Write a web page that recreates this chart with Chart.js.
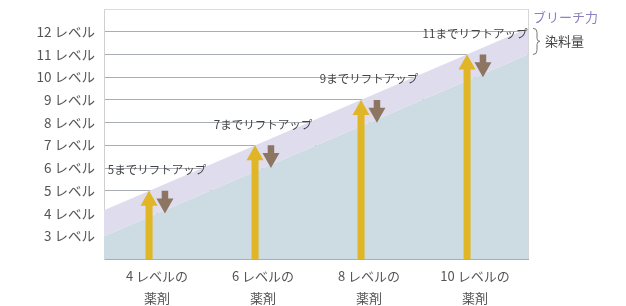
<!DOCTYPE html>
<html lang="ja">
<head>
<meta charset="utf-8">
<script src="https://cdn.jsdelivr.net/npm/chart.js@4.4.1/dist/chart.umd.min.js"></script>
<style>
  html, body { margin: 0; padding: 0; background: #fff; }
</style>
</head>
<body>
<canvas id="chart" width="626" height="306"></canvas>
<script>
// data
const categories = [["4 レベルの", "薬剤"], ["6 レベルの", "薬剤"], ["8 レベルの", "薬剤"], ["10 レベルの", "薬剤"]];
const levelTicks = [3, 4, 5, 6, 7, 8, 9, 10, 11, 12];
const liftLevels = [5, 7, 9, 11];
const dropLevels = [4, 6, 8, 10];
const liftTexts = ["5までリフトアップ", "7までリフトアップ", "9までリフトアップ", "11までリフトアップ"];
const bandEdges = [-0.5, 3.5];
const bleachEdge = [4.15, 12.15];
const dyeEdge = [3.0, 11.0];

const FONT = '"Noto Sans CJK JP", "Noto Sans", sans-serif';
Chart.defaults.font.family = FONT;

function drawArrow(ctx, cx, from, to, shaftW, headW, headL, color) {
  const dir = to < from ? -1 : 1;
  const headBase = to - dir * headL;
  ctx.fillStyle = color;
  ctx.beginPath();
  ctx.moveTo(cx - shaftW / 2, from);
  ctx.lineTo(cx - shaftW / 2, headBase);
  ctx.lineTo(cx - headW / 2, headBase);
  ctx.lineTo(cx, to);
  ctx.lineTo(cx + headW / 2, headBase);
  ctx.lineTo(cx + shaftW / 2, headBase);
  ctx.lineTo(cx + shaftW / 2, from);
  ctx.closePath();
  ctx.fill();
}

const arrowPlugin = {
  id: "arrows",
  afterDraw(chart) {
    const { ctx, chartArea, scales: { x, y } } = chart;
    ctx.save();
    // top frame line
    ctx.strokeStyle = "#dcdcdc";
    ctx.lineWidth = 1;
    ctx.beginPath();
    ctx.moveTo(chartArea.left, Math.round(y.getPixelForValue(y.max)) + 0.5);
    ctx.lineTo(chartArea.right, Math.round(y.getPixelForValue(y.max)) + 0.5);
    ctx.stroke();

    liftLevels.forEach((lv, i) => {
      drawArrow(ctx, x.getPixelForValue(i - 0.075), y.getPixelForValue(y.min), y.getPixelForValue(lv), 7, 17, 15, "#e0b526");
      drawArrow(ctx, x.getPixelForValue(i + 0.075), y.getPixelForValue(lv), y.getPixelForValue(dropLevels[i]), 6.5, 17, 15, "#8c7662");
      ctx.fillStyle = "#444";
      ctx.font = "11.5px " + FONT;
      ctx.textAlign = "center";
      ctx.textBaseline = "middle";
      ctx.fillText(liftTexts[i], x.getPixelForValue(i), y.getPixelForValue(lv + 0.92));
    });

    // legend on the right with brace
    const x0 = chartArea.right + 5;
    const top = y.getPixelForValue(bleachEdge[1]);
    const bottom = y.getPixelForValue(dyeEdge[1]);
    const mid = (top + bottom) / 2;
    ctx.strokeStyle = "#777";
    ctx.beginPath();
    ctx.moveTo(x0, top);
    ctx.quadraticCurveTo(x0 + 4, top, x0 + 4, top + 4);
    ctx.lineTo(x0 + 4, mid - 3);
    ctx.quadraticCurveTo(x0 + 4, mid, x0 + 7, mid);
    ctx.quadraticCurveTo(x0 + 4, mid, x0 + 4, mid + 3);
    ctx.lineTo(x0 + 4, bottom - 4);
    ctx.quadraticCurveTo(x0 + 4, bottom, x0, bottom);
    ctx.stroke();

    ctx.font = "13px " + FONT;
    ctx.textAlign = "left";
    ctx.textBaseline = "middle";
    ctx.fillStyle = "#8a80c2";
    ctx.fillText("ブリーチ力", x0, top - 11);
    ctx.fillStyle = "#444";
    ctx.fillText("染料量", x0 + 12, mid);
    ctx.restore();
  }
};

new Chart(document.getElementById("chart"), {
  type: "line",
  data: {
    datasets: [
      {
        label: "ブリーチ力",
        data: bandEdges.map((v, i) => ({ x: v, y: bleachEdge[i] })),
        backgroundColor: "#dfdcee",
        borderWidth: 0,
        pointRadius: 0,
        fill: "+1"
      },
      {
        label: "染料量",
        data: bandEdges.map((v, i) => ({ x: v, y: dyeEdge[i] })),
        backgroundColor: "#cddce3",
        borderWidth: 0,
        pointRadius: 0,
        fill: "start"
      }
    ]
  },
  options: {
    responsive: false,
    animation: false,
    layout: { autoPadding: false, padding: { top: 9, right: 98, left: 0, bottom: 0 } },
    plugins: { legend: { display: false }, tooltip: { enabled: false } },
    scales: {
      x: {
        type: "linear",
        min: bandEdges[0],
        max: bandEdges[1],
        z: 1,
        afterBuildTicks: (s) => {
          s.ticks = [bandEdges[0], 0, 1, 2, 3, bandEdges[1]].map(v => ({ value: v }));
        },
        afterFit: (s) => { s.height = 47; s.paddingLeft = 0; s.paddingRight = 0; },
        ticks: {
          autoSkip: false,
          maxRotation: 0,
          padding: 6,
          color: "#555",
          font: { size: 13, lineHeight: 1.7 },
          callback: (v) => categories[v] || ""
        },
        grid: {
          drawTicks: false,
          color: (c) => c.tick && c.tick.value === bandEdges[1] ? "#d6d6d6" : "rgba(0,0,0,0)"
        },
        border: { color: "#a9aeb4" }
      },
      y: {
        min: 2,
        max: 13,
        z: 1,
        afterBuildTicks: (s) => {
          s.ticks = [2, ...levelTicks].map(v => ({ value: v }));
        },
        afterFit: (s) => { s.width = 104; s.paddingTop = 0; s.paddingBottom = 0; },
        ticks: {
          padding: 9,
          color: "#555",
          font: { size: 13.5 },
          callback: (v) => levelTicks.includes(v) ? v + " レベル" : ""
        },
        grid: {
          drawTicks: false,
          color: "#a9aeb4"
        },
        border: { color: "#d0d0d0" }
      }
    }
  },
  plugins: [arrowPlugin]
});
</script>
</body>
</html>
